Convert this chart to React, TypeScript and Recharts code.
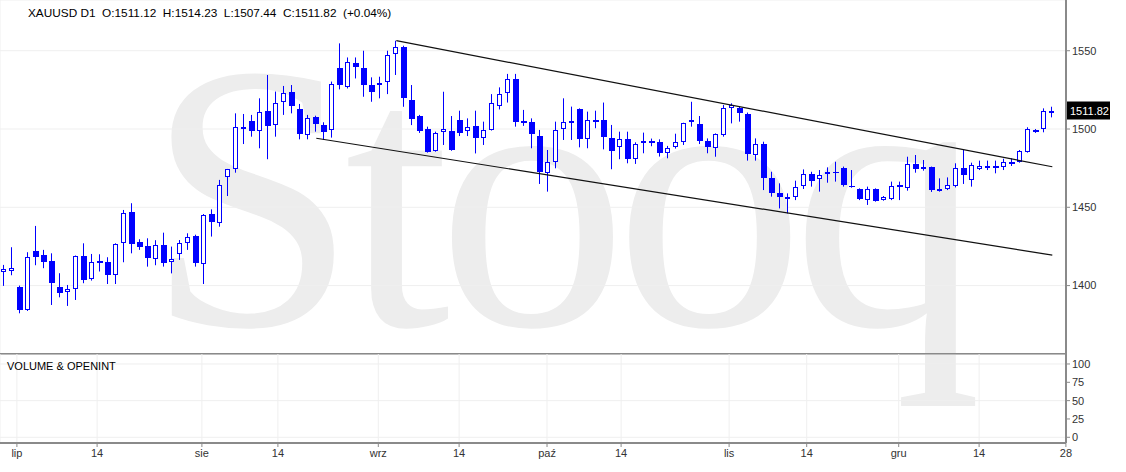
import React from 'react';
import { ComposedChart, Bar, Line, XAxis, YAxis, CartesianGrid, ReferenceLine } from 'recharts';

// XAUUSD daily candles, 27 Jun - 27 Dec 2019 (one entry per trading day)
const opens = [
  1408.7, 1409.6, 1399.3, 1384.4, 1422.1, 1419.6, 1415.7, 1398.9, 1395.9, 1397.6,
  1418.9, 1404.5, 1415.7, 1415.1, 1406.6, 1427.0, 1447.0, 1428.1, 1425.3, 1417.2,
  1425.7, 1415.1, 1420.2, 1427.0, 1431.7, 1413.8, 1445.7, 1440.2, 1469.2, 1474.7,
  1499.8, 1505.3, 1498.8, 1511.5, 1502.6, 1517.1, 1523.4, 1512.6, 1496.2, 1507.5,
  1502.4, 1499.4, 1538.8, 1527.0, 1542.3, 1538.7, 1528.1, 1528.1, 1529.8, 1547.9,
  1552.6, 1518.5, 1508.3, 1499.8, 1486.1, 1498.3, 1498.9, 1505.7, 1498.7, 1501.9,
  1494.0, 1499.3, 1514.7, 1522.8, 1531.8, 1505.1, 1504.7, 1495.6, 1472.1, 1479.2,
  1499.8, 1503.6, 1512.6, 1493.9, 1505.8, 1505.8, 1494.1, 1488.3, 1493.4, 1480.9,
  1490.9, 1492.6, 1491.9, 1484.9, 1488.3, 1491.9, 1504.3, 1503.0, 1492.5, 1487.6,
  1496.2, 1513.2, 1513.2, 1509.6, 1483.4, 1490.4, 1468.5, 1458.9, 1455.3, 1456.3,
  1463.8, 1471.3, 1467.8, 1471.3, 1472.7, 1474.9, 1463.8, 1461.5, 1454.6, 1461.5,
  1454.6, 1455.1, 1464.0, 1462.1, 1477.6, 1474.7, 1475.5, 1460.4, 1461.5, 1463.6,
  1475.1, 1467.4, 1474.7, 1474.9, 1476.4, 1475.9, 1479.1, 1479.1, 1485.5, 1499.4,
  1499.8, 1511.12,
];
const highs = [
  1413.2, 1424.5, 1400.0, 1421.3, 1438.1, 1422.8, 1420.6, 1407.9, 1400.4, 1419.2,
  1427.0, 1420.2, 1420.0, 1418.1, 1427.0, 1448.3, 1452.6, 1429.6, 1430.2, 1429.0,
  1433.8, 1424.9, 1429.1, 1433.4, 1432.5, 1445.7, 1448.7, 1467.5, 1474.5, 1510.0,
  1509.6, 1509.0, 1519.6, 1534.5, 1523.9, 1527.5, 1528.1, 1516.0, 1509.0, 1508.5,
  1504.3, 1530.3, 1554.7, 1545.7, 1545.7, 1550.0, 1533.0, 1533.4, 1550.0, 1556.4,
  1553.2, 1528.1, 1509.0, 1501.5, 1498.3, 1523.8, 1508.3, 1511.7, 1506.8, 1511.7,
  1504.7, 1522.3, 1526.6, 1535.2, 1535.2, 1512.2, 1506.8, 1499.4, 1486.6, 1504.7,
  1519.6, 1514.3, 1513.2, 1511.1, 1511.7, 1516.9, 1502.6, 1498.3, 1498.3, 1491.5,
  1497.7, 1493.9, 1493.4, 1489.2, 1497.0, 1504.0, 1517.4, 1508.3, 1494.0, 1497.2,
  1515.3, 1516.4, 1514.3, 1510.5, 1494.0, 1491.9, 1472.7, 1465.3, 1458.9, 1467.0,
  1474.2, 1472.7, 1473.8, 1475.5, 1479.1, 1476.0, 1473.8, 1462.1, 1463.2, 1462.1,
  1457.2, 1466.4, 1466.4, 1482.3, 1483.4, 1480.2, 1476.0, 1468.5, 1469.1, 1478.1,
  1486.6, 1478.5, 1479.8, 1479.8, 1479.8, 1481.0, 1481.3, 1486.6, 1501.1, 1500.0,
  1513.2, 1514.23,
];
const lows = [
  1399.8, 1406.6, 1382.3, 1383.8, 1413.0, 1411.1, 1387.6, 1392.5, 1387.0, 1390.8,
  1401.5, 1403.2, 1409.0, 1401.0, 1401.0, 1414.9, 1420.6, 1422.8, 1412.1, 1413.0,
  1412.1, 1407.8, 1416.4, 1422.8, 1412.1, 1401.0, 1431.3, 1437.6, 1457.2, 1472.1,
  1490.4, 1495.1, 1487.7, 1480.7, 1495.1, 1509.0, 1510.0, 1493.4, 1493.4, 1498.3,
  1493.0, 1494.5, 1525.3, 1525.9, 1532.3, 1520.6, 1517.4, 1519.6, 1522.3, 1534.5,
  1514.2, 1502.5, 1497.5, 1484.9, 1485.5, 1489.8, 1486.1, 1495.5, 1495.5, 1484.4,
  1489.8, 1499.0, 1512.5, 1516.9, 1501.5, 1502.0, 1487.7, 1464.9, 1460.0, 1474.9,
  1493.0, 1493.0, 1488.3, 1487.7, 1500.5, 1487.0, 1474.3, 1480.7, 1478.1, 1477.7,
  1484.5, 1489.0, 1482.4, 1481.3, 1487.5, 1489.8, 1501.5, 1490.4, 1484.5, 1482.3,
  1495.1, 1503.6, 1504.7, 1479.8, 1479.8, 1461.0, 1456.8, 1449.3, 1446.1, 1454.6,
  1461.7, 1463.2, 1460.0, 1465.7, 1466.4, 1463.2, 1462.5, 1454.6, 1451.5, 1453.6,
  1454.2, 1454.6, 1454.6, 1460.6, 1472.1, 1473.4, 1459.8, 1460.0, 1461.0, 1462.7,
  1464.9, 1463.2, 1473.8, 1473.8, 1471.7, 1473.8, 1476.4, 1478.5, 1484.9, 1497.5,
  1497.9, 1507.44,
];
const closes = [
  1410.4, 1411.3, 1384.4, 1418.5, 1418.5, 1415.3, 1401.5, 1395.5, 1398.1, 1418.9,
  1403.6, 1415.3, 1414.2, 1406.6, 1426.6, 1446.2, 1426.4, 1424.9, 1417.9, 1425.7,
  1414.7, 1416.8, 1427.4, 1430.8, 1414.2, 1445.1, 1440.8, 1464.3, 1474.3, 1501.1,
  1501.1, 1498.5, 1511.1, 1501.9, 1516.4, 1523.2, 1514.7, 1496.8, 1506.9, 1503.2,
  1498.3, 1528.8, 1528.1, 1543.0, 1539.4, 1528.1, 1523.8, 1529.6, 1547.2, 1552.1,
  1519.6, 1506.1, 1498.9, 1485.5, 1497.6, 1499.8, 1486.6, 1497.6, 1501.0, 1494.0,
  1499.3, 1516.8, 1522.3, 1531.8, 1504.5, 1503.6, 1496.8, 1472.8, 1479.2, 1499.4,
  1504.7, 1505.1, 1493.4, 1505.8, 1504.3, 1494.7, 1486.2, 1493.4, 1481.1, 1490.4,
  1492.6, 1490.9, 1484.5, 1487.7, 1491.9, 1503.6, 1505.8, 1492.5, 1488.7, 1496.8,
  1513.2, 1515.1, 1510.0, 1484.0, 1490.4, 1468.5, 1458.9, 1456.3, 1456.8, 1463.1,
  1471.3, 1467.0, 1470.6, 1472.7, 1471.7, 1464.2, 1462.7, 1455.1, 1461.5, 1454.2,
  1456.3, 1463.6, 1462.7, 1477.6, 1474.2, 1475.9, 1461.0, 1461.9, 1464.0, 1475.1,
  1470.4, 1477.0, 1476.4, 1476.2, 1474.9, 1478.9, 1477.6, 1485.9, 1499.8, 1498.1,
  1511.7, 1511.82,
];

// month / mid-month ticks (positions in candle index units)
const xTickPos = [1.575, 11.6, 24.7, 34.2, 46.75, 56.85, 67.84, 77.1, 90.6, 100.3, 111.8, 121.85, 132.7];
const xTickLabels = ['lip', '14', 'sie', '14', 'wrz', '14', 'paź', '14', 'lis', '14', 'gru', '14', '28'];
const priceTicks = [1400, 1450, 1500, 1550];
const volTicks = [0, 25, 50, 75, 100];

// trend channel drawn on the chart
const upperChannel = [{ x: 49, y: 1556.4 }, { x: 131, y: 1475.9 }];
const lowerChannel = [{ x: 39, y: 1494.1 }, { x: 131, y: 1419.5 }];

const lastClose = 1511.82;
const header = 'XAUUSD D1  O:1511.12  H:1514.23  L:1507.44  C:1511.82  (+0.04%)';

const rows = opens.map((o, i) => ({
  i,
  o,
  h: highs[i],
  l: lows[i],
  c: closes[i],
  range: [lows[i], highs[i]],
  vol: null as number | null,
}));

const BLUE = '#0000ff';
const AXIS = '#8a8a8a';
const GRID = '#efefef';
const xDomain = [-0.5375, 132.7125];

const Candle = (props: any) => {
  const { x, y, width, height, payload } = props;
  if (!payload || x == null) return null;
  const top = Math.min(y, y + height);
  const span = Math.abs(height);
  const k = payload.h > payload.l ? span / (payload.h - payload.l) : 0;
  const py = (v: number) => top + (payload.h - v) * k;
  const px = Math.floor(x + width / 2);
  const up = payload.c >= payload.o;
  const bTop = Math.round(py(Math.max(payload.o, payload.c)));
  const bBot = Math.max(bTop + 1, Math.round(py(Math.min(payload.o, payload.c))));
  return (
    <g>
      <line x1={px + 0.5} x2={px + 0.5} y1={top} y2={top + span} stroke={BLUE} strokeWidth={1} />
      {up ? (
        <rect x={px - 1.5} y={bTop + 0.5} width={4} height={Math.max(1, bBot - bTop - 1)} fill="#fff" stroke={BLUE} strokeWidth={1} />
      ) : (
        <rect x={px - 2} y={bTop} width={6} height={bBot - bTop} fill={BLUE} />
      )}
    </g>
  );
};

const PriceTag = (props: any) => {
  const vb = props.viewBox;
  if (!vb) return null;
  const x = vb.x + vb.width + 1;
  const y = vb.y;
  return (
    <g>
      <rect x={x} y={y - 9} width={43} height={18} fill="#000" />
      <text x={x + 3} y={y + 4} fill="#fff" fontSize={11}>{props.price}</text>
    </g>
  );
};

export default function App() {
  return (
    <div
      style={{
        position: 'absolute',
        left: 0,
        top: 0,
        width: 1126,
        height: 472,
        background: '#fff',
        fontFamily: 'Arial, "Liberation Sans", sans-serif',
        overflow: 'hidden',
      }}
    >
      {/* watermark */}
      <svg width={1126} height={472} style={{ position: 'absolute', left: 0, top: 0 }}>
        <text
          x={146}
          y={325}
          fontSize={380}
          fontFamily='"Liberation Serif", "Times New Roman", serif'
          fill="#ededed"
          textLength={836}
          lengthAdjust="spacing"
        >
          Stooq
        </text>
      </svg>

      <div style={{ position: 'absolute', left: 0, top: 0 }}>
        <ComposedChart width={1126} height={355} data={rows} margin={{ top: 0, right: 0, bottom: 0, left: 0 }}>
          <CartesianGrid stroke={GRID} />
          <XAxis
            type="number"
            dataKey="i"
            domain={xDomain}
            ticks={xTickPos}
            tick={false}
            tickLine={false}
            height={1}
            axisLine={{ stroke: AXIS, strokeWidth: 2 }}
            allowDataOverflow
          />
          <YAxis
            orientation="right"
            domain={[1356.3, 1582.4]}
            ticks={priceTicks}
            width={60}
            tickSize={4}
            axisLine={{ stroke: AXIS, strokeWidth: 2 }}
            tickLine={{ stroke: AXIS }}
            tick={{ fill: '#333', fontSize: 11 }}
            allowDataOverflow
          />
          <Bar dataKey="range" barSize={7} shape={<Candle />} isAnimationActive={false} />
          <ReferenceLine segment={upperChannel} stroke="#111" strokeWidth={1.2} ifOverflow="visible" />
          <ReferenceLine segment={lowerChannel} stroke="#111" strokeWidth={1.2} ifOverflow="visible" />
          <ReferenceLine y={lastClose} stroke="none" ifOverflow="visible" label={<PriceTag price={lastClose.toFixed(2)} />} />
        </ComposedChart>
      </div>

      <div style={{ position: 'absolute', left: 0, top: 354 }}>
        <ComposedChart width={1126} height={118} data={rows} margin={{ top: 0, right: 0, bottom: 0, left: 0 }}>
          <CartesianGrid stroke={GRID} />
          <XAxis
            type="number"
            dataKey="i"
            domain={xDomain}
            ticks={xTickPos}
            tickFormatter={(v: number) => xTickLabels[xTickPos.indexOf(v)] ?? ''}
            height={29}
            tickSize={4}
            axisLine={{ stroke: AXIS, strokeWidth: 2 }}
            tickLine={{ stroke: AXIS }}
            tick={{ fill: '#333', fontSize: 11 }}
            interval={0}
            allowDataOverflow
          />
          <YAxis
            orientation="right"
            domain={[-7.8, 113.6]}
            ticks={volTicks}
            width={60}
            tickSize={4}
            axisLine={{ stroke: AXIS, strokeWidth: 2 }}
            tickLine={{ stroke: AXIS }}
            tick={{ fill: '#333', fontSize: 11 }}
            allowDataOverflow
          />
          <Line dataKey="vol" stroke={BLUE} dot={false} isAnimationActive={false} />
        </ComposedChart>
      </div>

      <div style={{ position: 'absolute', left: 28, top: 6, fontSize: 11.8, color: '#000', whiteSpace: 'pre' }}>{header}</div>
      <div style={{ position: 'absolute', left: 7, top: 360, fontSize: 11, color: '#000' }}>VOLUME &amp; OPENINT</div>
    </div>
  );
}
